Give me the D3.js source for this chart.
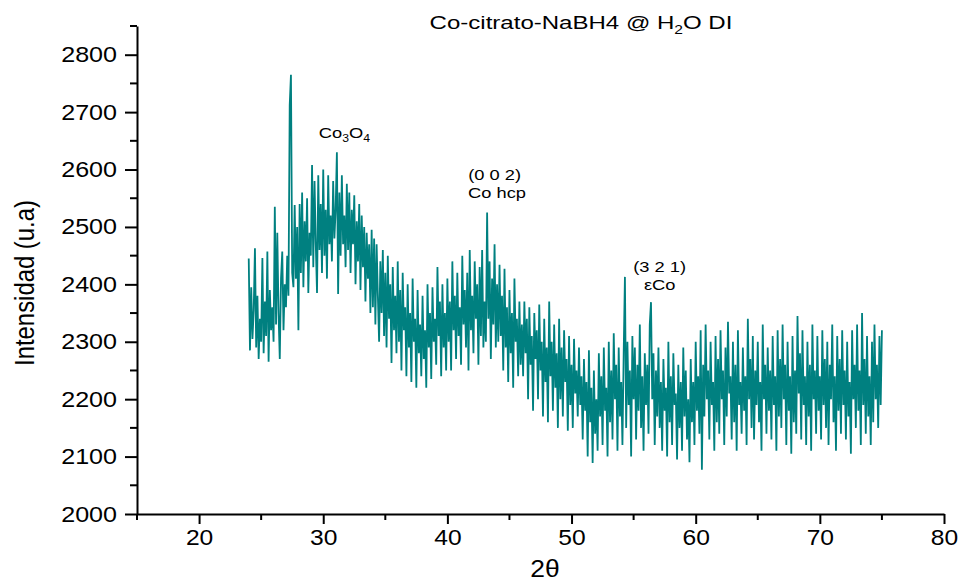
<!DOCTYPE html>
<html>
<head>
<meta charset="utf-8">
<script src="https://cdn.jsdelivr.net/npm/d3@7"></script>
<style>
  body { margin: 0; background: #fff; }
  text { font-family: "Liberation Sans", Arial, sans-serif; fill: #000; }
</style>
</head>
<body>
<svg width="964" height="582"></svg>
<script>
// scan starts at 24 deg, 0.1 deg per point
const startAngle = 24, stepAngle = 0.1;

const intensity = [
  2445, 2285, 2395, 2305, 2355, 2463, 2290, 2380, 2270, 2340,
  2300, 2446, 2280, 2370, 2310, 2457, 2265, 2390, 2320, 2360,
  2300, 2535, 2330, 2490, 2350, 2270, 2410, 2457, 2320, 2400,
  2360, 2450, 2380, 2712, 2765, 2420, 2395, 2538, 2410, 2500,
  2320, 2540, 2420, 2560, 2395, 2510, 2440, 2550, 2385, 2490,
  2450, 2608, 2430, 2580, 2470, 2385, 2590, 2460, 2540, 2420,
  2600, 2450, 2530, 2410, 2590, 2470, 2520, 2440, 2580, 2480,
  2530, 2630, 2383, 2560, 2450, 2590, 2470, 2520, 2430, 2575,
  2460, 2560, 2420, 2530, 2470, 2555, 2400, 2510, 2440, 2540,
  2390, 2520, 2430, 2500, 2370, 2490, 2410, 2470, 2350, 2495,
  2360, 2480, 2330, 2470, 2380, 2300, 2440, 2350, 2460, 2310,
  2420, 2290, 2450, 2340, 2400, 2263, 2430, 2320, 2380, 2280,
  2440, 2300, 2390, 2250, 2420, 2320, 2360, 2240, 2400, 2290,
  2350, 2230, 2410, 2300, 2340, 2220, 2390, 2280, 2330, 2240,
  2380, 2270, 2320, 2220, 2400, 2290, 2350, 2235, 2395, 2300,
  2340, 2260, 2430, 2310, 2370, 2240, 2400, 2290, 2350, 2250,
  2410, 2300, 2370, 2250, 2440, 2320, 2380, 2270, 2420, 2310,
  2360, 2260, 2450, 2330, 2390, 2290, 2420, 2250, 2460, 2320,
  2380, 2280, 2440, 2340, 2400, 2260, 2430, 2310, 2460, 2290,
  2370, 2300, 2525, 2340, 2440, 2270, 2410, 2330, 2470, 2290,
  2400, 2300, 2434, 2310, 2380, 2250, 2427, 2290, 2360, 2230,
  2390, 2280, 2350, 2220, 2410, 2300, 2340, 2240, 2370, 2260,
  2330, 2240, 2370, 2280, 2340, 2200, 2360, 2260, 2310, 2180,
  2350, 2270, 2320, 2200, 2365, 2250, 2300, 2170, 2340, 2230,
  2290, 2160, 2370, 2240, 2300, 2180, 2330, 2220, 2280, 2150,
  2340, 2200, 2290, 2170, 2320, 2230, 2270, 2145, 2310, 2190,
  2260, 2150, 2305, 2210, 2250, 2170, 2290, 2190, 2240, 2130,
  2270, 2180, 2230, 2100, 2285, 2160, 2220, 2089, 2250, 2140,
  2200, 2110, 2280, 2170, 2240, 2120, 2290, 2180, 2220, 2100,
  2300, 2160, 2250, 2130, 2315, 2200, 2260, 2110, 2290, 2170,
  2230, 2120, 2280, 2413, 2150, 2300, 2190, 2250, 2100, 2310,
  2200, 2290, 2130, 2260, 2180, 2330, 2150, 2240, 2110, 2280,
  2190, 2260, 2140, 2330, 2369, 2200, 2280, 2120, 2250, 2170,
  2290, 2150, 2230, 2110, 2270, 2180, 2220, 2100, 2300, 2160,
  2240, 2120, 2280, 2190, 2210, 2095, 2260, 2150, 2230, 2110,
  2290, 2170, 2250, 2130, 2200, 2090, 2270, 2160, 2230, 2120,
  2300, 2180, 2240, 2140, 2320, 2077, 2260, 2170, 2330, 2200,
  2250, 2130, 2300, 2190, 2230, 2110, 2310, 2160, 2270, 2140,
  2320, 2200, 2250, 2120, 2290, 2170, 2335, 2210, 2240, 2130,
  2300, 2160, 2260, 2110, 2320, 2190, 2230, 2140, 2290, 2180,
  2240, 2120, 2340, 2200, 2270, 2150, 2310, 2130, 2250, 2190,
  2300, 2160, 2230, 2110, 2330, 2200, 2260, 2140, 2290, 2180,
  2250, 2130, 2310, 2190, 2240, 2110, 2320, 2170, 2270, 2150,
  2330, 2200, 2260, 2120, 2300, 2180, 2240, 2105, 2310, 2160,
  2250, 2140, 2345, 2210, 2280, 2130, 2320, 2190, 2240, 2120,
  2300, 2170, 2260, 2110, 2330, 2200, 2250, 2140, 2310, 2180,
  2240, 2130, 2320, 2190, 2270, 2150, 2300, 2120, 2260, 2200,
  2330, 2160, 2240, 2110, 2310, 2180, 2270, 2140, 2320, 2190,
  2250, 2130, 2300, 2170, 2230, 2105, 2320, 2200, 2260, 2150,
  2330, 2180, 2250, 2120, 2350, 2190, 2270, 2140, 2310, 2170,
  2240, 2120, 2300, 2160, 2330, 2200, 2260, 2150, 2310, 2190,
  2320
];

const xTicks = [20, 30, 40, 50, 60, 70, 80];
const xMinor = [15, 25, 35, 45, 55, 65, 75];
const yTicks = [2000, 2100, 2200, 2300, 2400, 2500, 2600, 2700, 2800];
const yMinor = [2050, 2150, 2250, 2350, 2450, 2550, 2650, 2750, 2850];

// peak labels: angle, intensity, text pieces ([string, isSubscript])
const peakAngle = [31.7, 43.8, 44.0, 57.1, 57.1];
const peakLevel = [2655, 2582, 2551, 2422, 2390];
const peakText = [
  [["Co", 0], ["3", 1], ["O", 0], ["4", 1]],
  [["(0 0 2)", 0]],
  [["Co hcp", 0]],
  [["(3 2 1)", 0]],
  [["\u03b5Co", 0]]
];

const svg = d3.select("svg");
const x = d3.scaleLinear().domain([15, 80]).range([137, 944]);
const y = d3.scaleLinear().domain([2000, 2850]).range([514, 26]);

const points = intensity.map((v, i) => [startAngle + i * stepAngle, v]);

svg.append("path")
   .datum(points)
   .attr("fill", "none")
   .attr("stroke", "#008080")
   .attr("stroke-width", 1.8)
   .attr("stroke-linejoin", "bevel")
   .attr("d", d3.line().x(d => x(d[0])).y(d => y(d[1])));

// axes
const xAxis = svg.append("g").attr("transform", "translate(0,514)");
xAxis.call(d3.axisBottom(x).tickValues(xTicks).tickSize(10).tickSizeOuter(0).tickPadding(5));
xAxis.selectAll("line.minor").data(xMinor).join("line")
     .attr("class", "minor")
     .attr("x1", d => x(d)).attr("x2", d => x(d))
     .attr("y1", 0).attr("y2", 6)
     .attr("stroke", "#000").attr("stroke-width", 2);
xAxis.selectAll(".tick text").attr("transform", "scale(1.12,1)");

const yAxis = svg.append("g").attr("transform", "translate(137,0)");
yAxis.call(d3.axisLeft(y).tickValues(yTicks).tickFormat(d3.format("d"))
     .tickSize(12).tickSizeOuter(0).tickPadding(8));
yAxis.selectAll("line.minor").data(yMinor).join("line")
     .attr("class", "minor")
     .attr("y1", d => y(d)).attr("y2", d => y(d))
     .attr("x1", 0).attr("x2", -7)
     .attr("stroke", "#000").attr("stroke-width", 2);
yAxis.selectAll(".tick text").each(function() {
  const tx = +this.getAttribute("x");
  d3.select(this).attr("x", 0).attr("transform", `translate(${tx},0) scale(1.14,1)`);
});

svg.selectAll(".domain").attr("stroke", "#000").attr("stroke-width", 2);
svg.selectAll(".tick line").attr("stroke", "#000").attr("stroke-width", 2);
svg.selectAll(".tick text")
   .attr("font-family", "'Liberation Sans', Arial, sans-serif")
   .attr("font-size", 22)
   .attr("fill", "#000");

// axis titles
svg.append("text")
   .attr("transform", "translate(545,577) scale(1.15,1)")
   .attr("text-anchor", "middle")
   .attr("font-size", 23)
   .text("2\u03b8");

svg.append("text")
   .attr("transform", "translate(34,283) rotate(-90)")
   .attr("text-anchor", "middle")
   .attr("font-size", 27)
   .attr("textLength", 166)
   .attr("lengthAdjust", "spacingAndGlyphs")
   .text("Intensidad (u.a)");

// title
const title = svg.append("text")
   .attr("transform", "translate(581,29) scale(1.3,1)")
   .attr("text-anchor", "middle")
   .attr("font-size", 18.5);
title.append("tspan").text("Co-citrato-NaBH4 @ H");
title.append("tspan").attr("font-size", 12).attr("dy", 5).text("2");
title.append("tspan").attr("dy", -5).text("O DI");

// peak annotations
peakText.forEach((parts, i) => {
  const t = svg.append("text")
     .attr("transform", `translate(${x(peakAngle[i])},${y(peakLevel[i])}) scale(1.22,1)`)
     .attr("text-anchor", "middle")
     .attr("font-size", 15);
  let low = 0;
  parts.forEach(([s, sub]) => {
    const dy = sub === low ? 0 : (sub ? 4 : -4);
    low = sub;
    t.append("tspan")
     .attr("font-size", sub ? 10 : 15)
     .attr("dy", dy)
     .text(s);
  });
});
</script>
</body>
</html>
